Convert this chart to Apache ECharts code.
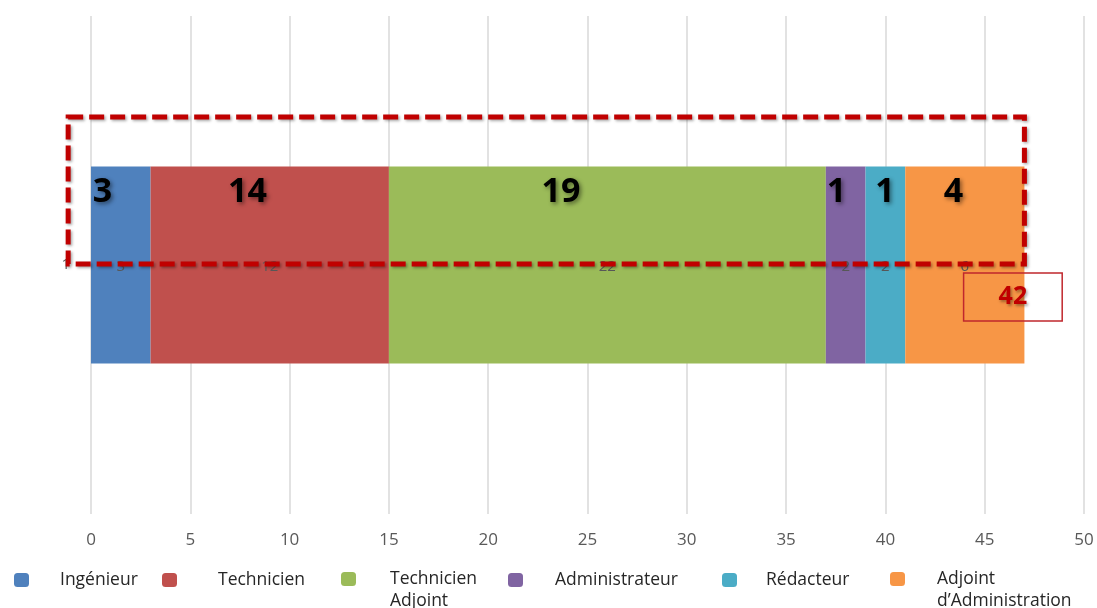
<!DOCTYPE html>
<html>
<head>
<meta charset="utf-8">
<script src="https://cdn.jsdelivr.net/npm/echarts@6/dist/echarts.min.js"></script>
<style>
html,body{margin:0;padding:0;background:#fff;}
#main{width:1097px;height:608px;}
</style>
</head>
<body>
<div id="main"></div>
<script>
// ---- data ----
var categories = ['1'];
var seriesNames = ['Ingénieur', 'Technicien', 'Technicien\nAdjoint', 'Administrateur', 'Rédacteur', 'Adjoint\nd\u2019Administration'];
var seriesValues = [3, 12, 22, 2, 2, 6];
var xTicks = [0, 5, 10, 15, 20, 25, 30, 35, 40, 45, 50];
// hand-drawn annotations (bold numbers above the bar, and total)
var annotValues = [3, 14, 19, 1, 1, 4];
var annotX = [0.58, 7.88, 23.66, 37.54, 39.98, 43.43];
var totalValue = 42;
var totalX = 46.42;

// ---- styles ----
var colors = ['#4F81BD', '#C0504D', '#9BBB59', '#8064A2', '#4BACC6', '#F79646'];
var FONT = 'Open Sans';
var legendLayout = [
  {left: 14, pad: 26},
  {left: 162, pad: 36},
  {left: 341, pad: 29},
  {left: 508, pad: 27},
  {left: 722, pad: 24},
  {left: 890, pad: 27}
];

var chart = echarts.init(document.getElementById('main'));

var legends = seriesNames.map(function (n, i) {
  var multi = n.indexOf('\n') >= 0;
  return {
    data: [n],
    left: legendLayout[i].left,
    top: multi ? 546 : 569,
    itemWidth: 15,
    itemHeight: 14,
    icon: 'roundRect',
    selectedMode: false,
    padding: 0,
    // two-line names: first line level with the swatch, second line below it
    formatter: multi ? function (name) { return '\n' + name; } : '{name}',
    textStyle: {
      fontFamily: FONT,
      fontSize: 17.5,
      color: '#262626',
      lineHeight: 22,
      padding: [0, 0, 0, legendLayout[i].pad]
    }
  };
});

var series = seriesNames.map(function (n, i) {
  return {
    name: n,
    type: 'bar',
    stack: 'total',
    barWidth: 197,
    data: [seriesValues[i]],
    itemStyle: {color: colors[i]},
    label: {
      show: true,
      position: 'inside',
      fontFamily: FONT,
      fontSize: 15,
      color: '#595959',
      offset: [0, 2]
    }
  };
});

// annotation series (no bars of its own) holding the marks
series.push({
  type: 'scatter',
  data: [],
  silent: true,
  markPoint: {
    symbol: 'circle',
    symbolSize: 1,
    itemStyle: {color: 'rgba(0,0,0,0)'},
    label: {
      show: true,
      position: 'inside',
      formatter: '{c}',
      fontFamily: FONT,
      fontWeight: 'bold',
      fontSize: 34,
      color: '#000',
      offset: [0, -73],
      textShadowColor: 'rgba(0,0,0,0.45)',
      textShadowBlur: 4,
      textShadowOffsetX: 2,
      textShadowOffsetY: 2
    },
    data: annotValues.map(function (v, i) {
      return {coord: [annotX[i], categories[0]], value: v};
    }).concat([{
      coord: [totalX, categories[0]],
      value: totalValue,
      label: {
        fontSize: 25,
        color: '#C00000',
        offset: [0, 32],
        lineHeight: 24,
        padding: [12, 35, 12, 35],
        borderColor: '#C0272D',
        borderWidth: 1.5,
        textShadowColor: 'rgba(0,0,0,0.35)',
        textShadowBlur: 3,
        textShadowOffsetX: 1.5,
        textShadowOffsetY: 1.5
      }
    }])
  }
});

chart.setOption({
  animation: false,
  backgroundColor: '#ffffff',
  legend: legends,
  grid: {left: 91, right: 13, top: 16, bottom: 94},
  xAxis: {
    type: 'value',
    min: xTicks[0],
    max: xTicks[xTicks.length - 1],
    interval: xTicks[1] - xTicks[0],
    axisLine: {show: false},
    axisTick: {show: false},
    splitLine: {show: true, lineStyle: {color: '#D9D9D9', width: 1.5}},
    axisLabel: {fontFamily: FONT, fontSize: 17, color: '#595959', margin: 18}
  },
  yAxis: {
    type: 'category',
    data: categories,
    axisLine: {show: false},
    axisTick: {show: false},
    axisLabel: {fontFamily: FONT, fontSize: 15, color: '#595959', margin: 21}
  },
  series: series
});

// dashed annotation box, positioned from axis coordinates
var p0 = chart.convertToPixel({gridIndex: 0}, [-1.15, categories[0]]);
var p1 = chart.convertToPixel({gridIndex: 0}, [47.0, categories[0]]);
chart.setOption({
  graphic: [{
    type: 'rect',
    silent: true,
    z: 100,
    shape: {x: p0[0], y: p0[1] - 148, width: p1[0] - p0[0], height: 147},
    style: {
      fill: 'none',
      stroke: '#C00000',
      lineWidth: 5,
      lineDash: [15, 6],
      shadowColor: 'rgba(0,0,0,0.35)',
      shadowBlur: 3,
      shadowOffsetX: 1.5,
      shadowOffsetY: 1.5
    }
  }]
});
</script>
</body>
</html>
